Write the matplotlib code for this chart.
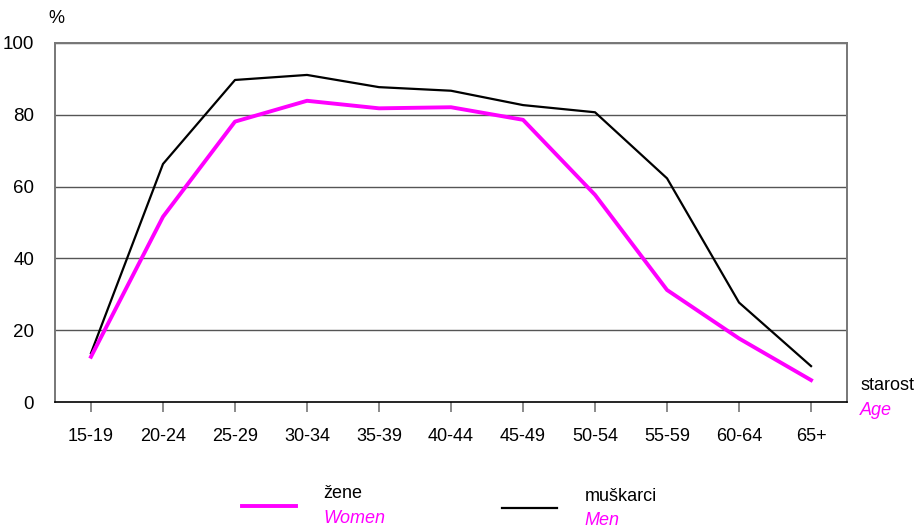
import matplotlib
matplotlib.use("Agg")
import matplotlib.pyplot as plt
from matplotlib.lines import Line2D

plt.rcParams['font.family'] = ['Liberation Sans', 'DejaVu Sans']

MAGENTA = '#ff00ff'

age_groups = ['15-19', '20-24', '25-29', '30-34', '35-39', '40-44',
              '45-49', '50-54', '55-59', '60-64', '65+']
women = [12.6, 51.6, 78.1, 83.9, 81.8, 82.1, 78.6, 57.7, 31.2, 17.7, 6.1]
men = [13.6, 66.3, 89.7, 91.1, 87.7, 86.7, 82.7, 80.7, 62.3, 27.7, 10.0]
y_ticks = [0, 20, 40, 60, 80, 100]

fig = plt.figure(figsize=(9.21, 5.30), dpi=100)
ax = fig.add_axes([0.0597, 0.2415, 0.86, 0.6774])

x = range(len(age_groups))
ax.plot(x, men, color='black', lw=1.6, zorder=3)
ax.plot(x, women, color=MAGENTA, lw=2.8, zorder=4)

ax.set_xlim(-0.5, len(age_groups) - 0.5)
ax.set_ylim(0, 100)
ax.set_yticks(y_ticks)
ax.set_xticks(list(x))
ax.set_xticklabels(age_groups)

for v in y_ticks[1:]:
    ax.axhline(v, color='#555555', lw=1.0, zorder=1)

for side in ['left', 'right', 'top']:
    ax.spines[side].set_color('#777777')
    ax.spines[side].set_linewidth(1.4)
ax.spines['bottom'].set_color('black')
ax.spines['bottom'].set_linewidth(1.2)

ax.tick_params(axis='y', length=0, labelsize=13.5, pad=15)
ax.tick_params(axis='x', length=7, color='#777777', width=1.2,
               labelsize=13, pad=12)

fig.text(0.052, 0.965, '%', fontsize=13, ha='left', va='center')
fig.text(0.934, 0.273, 'starost', fontsize=13, ha='left', va='center')
fig.text(0.934, 0.226, 'Age', fontsize=13, ha='left', va='center',
         color=MAGENTA, style='italic')

# legend drawn by hand, as in the source layout
fig.add_artist(Line2D([0.263, 0.321], [0.045, 0.045], color=MAGENTA, lw=2.8,
                      transform=fig.transFigure))
fig.text(0.351, 0.068, 'žene', fontsize=13, ha='left', va='center')
fig.text(0.351, 0.022, 'Women', fontsize=13, ha='left', va='center',
         color=MAGENTA, style='italic')

fig.add_artist(Line2D([0.545, 0.605], [0.041, 0.041], color='black', lw=1.6,
                      transform=fig.transFigure))
fig.text(0.635, 0.064, 'muškarci', fontsize=13, ha='left', va='center')
fig.text(0.635, 0.018, 'Men', fontsize=13, ha='left', va='center',
         color=MAGENTA, style='italic')

fig.savefig('out.png', dpi=100)
